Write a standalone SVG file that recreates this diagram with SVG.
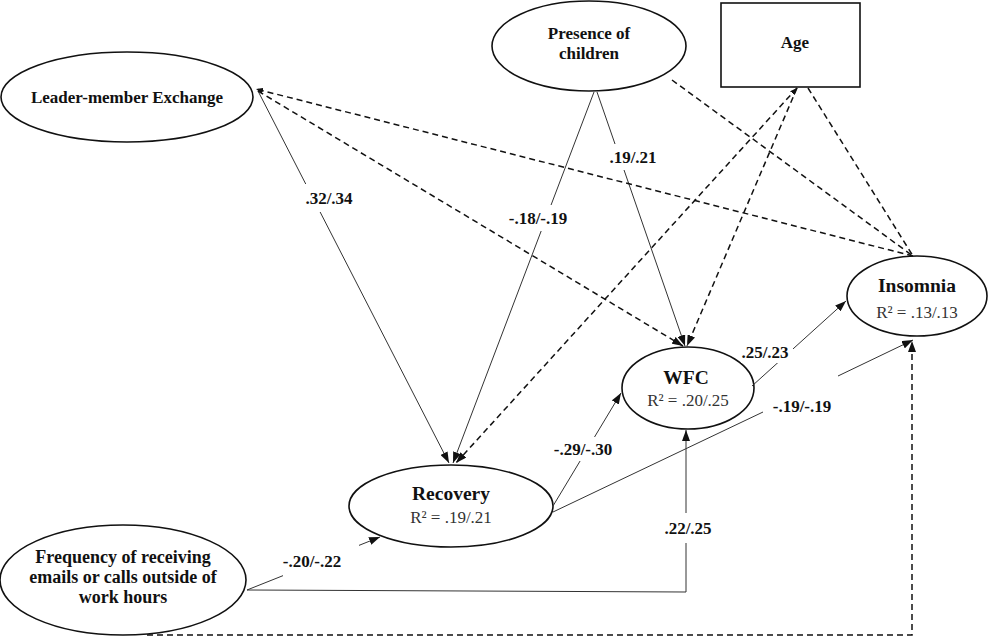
<svg xmlns="http://www.w3.org/2000/svg" width="1000" height="642" viewBox="0 0 1000 642">
<defs>
<marker id="ah" markerWidth="11" markerHeight="8" refX="11" refY="4" orient="auto" markerUnits="userSpaceOnUse"><path d="M0,0 L11,4 L0,8 z" fill="#111"/></marker>
<marker id="ahs" markerWidth="7" markerHeight="6" refX="7" refY="3" orient="auto-start-reverse" markerUnits="userSpaceOnUse"><path d="M0,0 L7,3 L0,6 z" fill="#111"/></marker>
</defs>
<style>
.node{fill:#fff;stroke:#111;stroke-width:1.6}
.t{font-family:"Liberation Serif","Times New Roman",serif;font-weight:bold;fill:#111;text-anchor:middle}
.r{font-family:"Liberation Serif","Times New Roman",serif;font-size:17px;fill:#333;text-anchor:middle}
.s{fill:none;stroke:#333;stroke-width:1}
.d{fill:none;stroke:#111;stroke-width:1.5;stroke-dasharray:6 4}
.lbl{font-family:"Liberation Serif","Times New Roman",serif;font-weight:bold;font-size:17px;fill:#111;text-anchor:middle}
.bg{fill:#fff}
</style>
<rect width="1000" height="642" fill="#fff"/>
<g id="lmx"><ellipse class="node" cx="127" cy="97" rx="126" ry="45"/><text class="t" x="127" y="103" font-size="17">Leader-member Exchange</text></g>
<g id="presence"><ellipse class="node" cx="589" cy="46" rx="97" ry="45"/><text class="t" x="589" y="39" font-size="17">Presence of</text><text class="t" x="589" y="59" font-size="17">children</text></g>
<g id="age"><rect class="node" x="721" y="3" width="139" height="84"/><text class="t" x="795" y="48" font-size="17">Age</text></g>
<g id="insomnia"><ellipse class="node" cx="917" cy="296" rx="70" ry="40"/><text class="t" x="917" y="292" font-size="19.5">Insomnia</text><text class="r" x="917" y="318">R² = .13/.13</text></g>
<g id="wfc"><ellipse class="node" cx="688" cy="388" rx="66" ry="41"/><text class="t" x="686" y="384" font-size="19.5">WFC</text><text class="r" x="688" y="406">R² = .20/.25</text></g>
<g id="recovery"><ellipse class="node" cx="451" cy="506" rx="102" ry="41"/><text class="t" x="451" y="500" font-size="19.5">Recovery</text><text class="r" x="451" y="523">R² = .19/.21</text></g>
<g id="frequency"><ellipse class="node" cx="123" cy="580" rx="123" ry="55"/><text class="t" x="123" y="563" font-size="18">Frequency of receiving</text><text class="t" x="123" y="583" font-size="18">emails or calls outside of</text><text class="t" x="123" y="603" font-size="18">work hours</text></g>
<g id="connectors">
<path class="s" d="M258,91 L449,463" marker-end="url(#ah)"/>
<path class="s" d="M594,92 L453,463" marker-end="url(#ah)"/>
<path class="s" d="M597,92 L685,346" marker-end="url(#ah)"/>
<path class="s" d="M553,506 L621,393" marker-end="url(#ah)"/>
<path class="s" d="M553,512 L763,412"/>
<path class="s" d="M838,376 L913,340" marker-end="url(#ah)"/>
<path class="s" d="M752,386 L846,301" marker-end="url(#ah)"/>
<path class="s" d="M247,590 L380,537" marker-end="url(#ah)"/>
<path class="s" d="M247,590 L686,592 L686,430" marker-end="url(#ah)"/>
<path class="d" d="M913,256 L256,89" marker-end="url(#ahs)"/>
<path class="d" d="M258,91 L683,346" marker-end="url(#ah)"/>
<path class="d" d="M672,80 L913,256"/>
<path class="d" d="M797,88 L687,346" marker-end="url(#ah)"/>
<path class="d" d="M797,88 L456,463" marker-start="url(#ahs)" marker-end="url(#ah)"/>
<path class="d" d="M808,88 L913,256"/>
<path class="d" d="M147,635 L912,635 L912,341" marker-end="url(#ah)"/>
</g>
<g id="labels">
<rect class="bg" x="303" y="184" width="52" height="28"/><text class="lbl" x="329" y="204">.32/.34</text>
<rect class="bg" x="508" y="205" width="60" height="26"/><text class="lbl" x="538" y="224">-.18/-.19</text>
<rect class="bg" x="607" y="144" width="52" height="26"/><text class="lbl" x="633" y="163">.19/.21</text>
<rect class="bg" x="741" y="341" width="52" height="22"/><text class="lbl" x="765" y="358">.25/.23</text>
<text class="lbl" x="802" y="412">-.19/-.19</text>
<rect class="bg" x="554" y="437" width="58" height="24"/><text class="lbl" x="583" y="455">-.29/-.30</text>
<rect class="bg" x="662" y="513" width="52" height="30"/><text class="lbl" x="688" y="534">.22/.25</text>
<rect class="bg" x="283" y="545" width="76" height="32"/><text class="lbl" x="312" y="567">-.20/-.22</text>
</g>
</svg>
